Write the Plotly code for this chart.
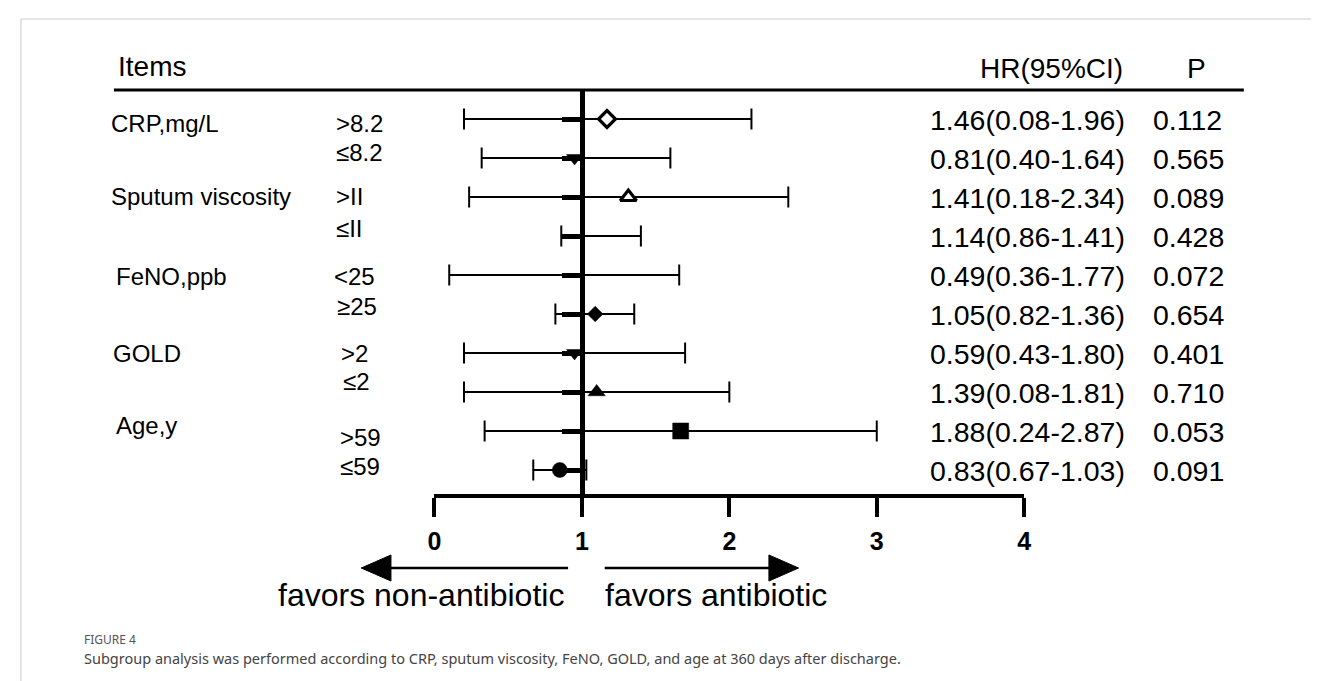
import plotly.graph_objects as go

W, H = 1319, 681

# ---------------- data ----------------
groups = ["CRP,mg/L", "Sputum viscosity", "FeNO,ppb", "GOLD", "Age,y"]
group_first_row = [0, 2, 4, 6, 8]
subgroups = [">8.2", "≤8.2", ">II", "≤II", "<25", "≥25", ">2", "≤2", ">59", "≤59"]
hr_ci_text = ["1.46(0.08-1.96)", "0.81(0.40-1.64)", "1.41(0.18-2.34)", "1.14(0.86-1.41)",
              "0.49(0.36-1.77)", "1.05(0.82-1.36)", "0.59(0.43-1.80)", "1.39(0.08-1.81)",
              "1.88(0.24-2.87)", "0.83(0.67-1.03)"]
p_text = ["0.112", "0.565", "0.089", "0.428", "0.072", "0.654", "0.401", "0.710", "0.053", "0.091"]

# values as drawn in the figure
drawn_point = [1.17, 0.95, 1.315, None, None, 1.09, 0.95, 1.10, 1.67, 0.85]
drawn_low = [0.20, 0.32, 0.235, 0.86, 0.10, 0.82, 0.20, 0.20, 0.34, 0.67]
drawn_high = [2.15, 1.60, 2.40, 1.40, 1.66, 1.355, 1.70, 2.00, 3.00, 1.03]
marker_symbol = ["diamond", "triangle-down", "triangle-up", "circle", "circle",
                 "diamond", "triangle-down", "triangle-up", "square", "circle"]
marker_open = [True, False, True, False, False, False, False, False, False, False]
marker_size = [13, 14, 14, 0, 0, 12, 14, 15, 16, 15]

x_ticks = [0, 1, 2, 3, 4]

# ---------------- layout helpers ----------------
def px_x(p):
    return p / W

def px_y(p):
    return 1 - p / H

ROW0_PX, ROW_STEP = 111, 39.0
AX_TOP_PX, AX_BOT_PX = 82, 486
X0_PX, X4_PX = 424, 1020
REF_PX = 573

n = len(subgroups)
rows = list(range(n))
y_top = (AX_TOP_PX - ROW0_PX) / ROW_STEP
y_bot = (AX_BOT_PX - ROW0_PX) / ROW_STEP

fig = go.Figure()

# whiskers with caps
wx, wy = [], []
for i in rows:
    wx += [drawn_low[i], drawn_high[i], None]
    wy += [i, i, None]
fig.add_trace(go.Scatter(
    x=wx, y=wy, mode="lines+markers",
    line=dict(color="black", width=2),
    marker=dict(symbol="line-ns", size=15, line=dict(color="black", width=2)),
    hoverinfo="skip", cliponaxis=False))

# point markers
fig.add_trace(go.Scatter(
    x=drawn_point, y=rows, mode="markers",
    marker=dict(symbol=marker_symbol, size=marker_size, opacity=1,
                color=["white" if o else "black" for o in marker_open],
                line=dict(color="black", width=[3.2 if o else 0.5 for o in marker_open])),
    hoverinfo="skip", cliponaxis=False))

FONT = "Liberation Sans"
ann = []
# header
ann.append(dict(text="Items", x=px_x(102), y=px_y(58), xanchor="left", yanchor="middle",
                font=dict(family=FONT, size=28, color="black")))
ann.append(dict(text="HR(95%CI)", x=px_x(1048), y=px_y(60), xanchor="center", yanchor="middle",
                font=dict(family=FONT, size=28, color="black")))
ann.append(dict(text="P", x=px_x(1194), y=px_y(60), xanchor="center", yanchor="middle",
                font=dict(family=FONT, size=28, color="black")))

group_x = [95, 95, 100, 97, 100]
group_shift = [-4, 1, -1, 0, 6]
for g, lab in enumerate(groups):
    ann.append(dict(text=lab, x=px_x(group_x[g]), y=group_first_row[g], yref="y",
                    yshift=group_shift[g], xanchor="left", yanchor="middle",
                    font=dict(family=FONT, size=24, color="black")))

sub_x = [322, 322, 322, 322, 320, 323, 327, 329, 326, 326]
sub_shift = [-4, 6, 1, 8, -1, 8, 0, 11, -6, 4]
for i in rows:
    ann.append(dict(text=subgroups[i], x=px_x(sub_x[i]), y=i, yref="y", yshift=sub_shift[i],
                    xanchor="left", yanchor="middle",
                    font=dict(family=FONT, size=24, color="black")))
    ann.append(dict(text=hr_ci_text[i], x=px_x(1124), y=i, yref="y", yshift=-1,
                    xanchor="right", yanchor="middle",
                    font=dict(family=FONT, size=28.5, color="black")))
    ann.append(dict(text=p_text[i], x=px_x(1148), y=i, yref="y", yshift=-1,
                    xanchor="left", yanchor="middle",
                    font=dict(family=FONT, size=28.5, color="black")))

# favors labels
ann.append(dict(text="favors non-antibiotic", x=px_x(557), y=px_y(587), xanchor="right",
                yanchor="middle", font=dict(family=FONT, size=32, color="black")))
ann.append(dict(text="favors antibiotic", x=px_x(594), y=px_y(587), xanchor="left",
                yanchor="middle", font=dict(family=FONT, size=32, color="black")))

# caption
ann.append(dict(text="FIGURE 4", x=px_x(68), y=px_y(631), xanchor="left", yanchor="middle",
                font=dict(family="Noto Sans", size=12, color="#555555")))
ann.append(dict(text="Subgroup analysis was performed according to CRP, sputum viscosity, FeNO, GOLD, and age at 360 days after discharge.",
                x=px_x(68), y=px_y(650), xanchor="left", yanchor="middle",
                font=dict(family="Noto Sans", size=14.5, color="#444444")))
for a in ann:
    a.setdefault("xref", "paper")
    a.setdefault("yref", "paper")
    a["showarrow"] = False

shapes = []
# frame
shapes.append(dict(type="rect", xref="paper", yref="paper", x0=px_x(6), x1=px_x(1313),
                   y0=px_y(700), y1=px_y(11), line=dict(color="#cccccc", width=1)))
# header rule
shapes.append(dict(type="line", xref="paper", yref="paper", x0=px_x(100), x1=px_x(1242),
                   y0=px_y(82), y1=px_y(82), line=dict(color="black", width=3)))
# arrows
AY = 560
shapes.append(dict(type="line", xref="paper", yref="paper", x0=px_x(376), x1=px_x(559),
                   y0=px_y(AY), y1=px_y(AY), line=dict(color="black", width=2.5)))
shapes.append(dict(type="line", xref="paper", yref="paper", x0=px_x(596), x1=px_x(766),
                   y0=px_y(AY), y1=px_y(AY), line=dict(color="black", width=2.5)))

def tri(tip, base, half):
    return (f"M {px_x(tip)},{px_y(AY)} L {px_x(base)},{px_y(AY - half)} "
            f"L {px_x(base)},{px_y(AY + half)} Z")

shapes.append(dict(type="path", xref="paper", yref="paper", path=tri(350, 380, 13),
                   fillcolor="black", line=dict(color="black", width=1)))
shapes.append(dict(type="path", xref="paper", yref="paper", path=tri(792, 762, 13),
                   fillcolor="black", line=dict(color="black", width=1)))

fig.update_layout(
    width=W, height=H, margin=dict(l=0, r=0, t=0, b=0),
    paper_bgcolor="white", plot_bgcolor="white", showlegend=False,
    annotations=ann, shapes=shapes,
    xaxis=dict(domain=[px_x(X0_PX), px_x(X4_PX)], range=[0, 4], anchor="y",
               showline=True, linewidth=4, linecolor="black", ticks="outside",
               ticklen=19, tickwidth=4, tickcolor="black", tickvals=x_ticks,
               ticktext=[str(t) for t in x_ticks], showgrid=False, zeroline=False,
               tickfont=dict(family=FONT, size=25, color="black", weight="bold"),
               ticklabelstandoff=3, fixedrange=True),
    yaxis=dict(domain=[px_y(AX_BOT_PX), px_y(AX_TOP_PX)], range=[y_bot, y_top],
               anchor="free", position=px_x(REF_PX), side="left",
               showline=True, linewidth=5, linecolor="black", ticks="outside",
               ticklen=18, tickwidth=5, tickcolor="black", tickvals=rows,
               showticklabels=False, showgrid=False, zeroline=False, fixedrange=True),
)

fig.write_html("out.html")
